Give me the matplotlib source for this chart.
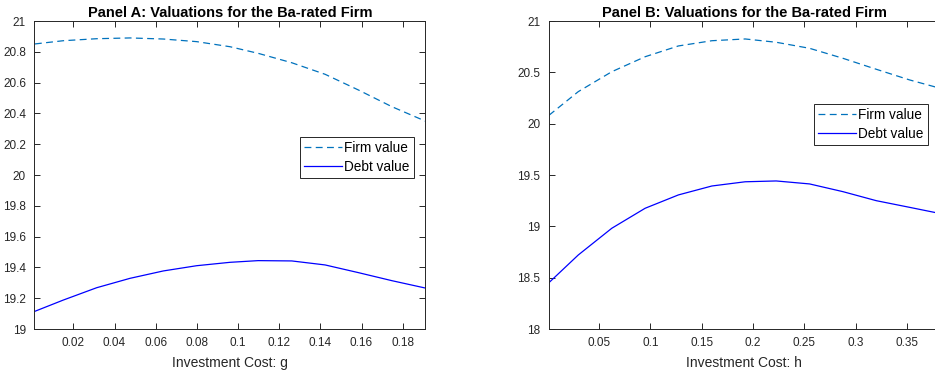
import matplotlib
matplotlib.use("Agg")
import matplotlib.pyplot as plt
from matplotlib.ticker import FuncFormatter

plt.rcParams['font.family'] = ['Liberation Sans', 'DejaVu Sans']

# Panel A data (investment cost g)
g = [0.0013, 0.0151, 0.0313, 0.0475, 0.0637, 0.0799, 0.0961,
     0.1098, 0.1261, 0.1423, 0.1585, 0.1747, 0.1910]
firm_a = [20.851, 20.872, 20.885, 20.890, 20.883, 20.866, 20.833,
          20.790, 20.729, 20.654, 20.552, 20.444, 20.350]
debt_a = [19.115, 19.188, 19.268, 19.329, 19.377, 19.411, 19.433,
          19.444, 19.442, 19.416, 19.366, 19.314, 19.266]

# Panel B data (investment cost h)
h = [0.0013, 0.0298, 0.0624, 0.0949, 0.1273, 0.1599, 0.1923,
     0.2225, 0.2550, 0.2874, 0.3199, 0.3524, 0.3820]
firm_b = [20.082, 20.312, 20.506, 20.652, 20.757, 20.808, 20.825,
          20.793, 20.734, 20.637, 20.530, 20.426, 20.345]
debt_b = [18.452, 18.721, 18.981, 19.176, 19.306, 19.393, 19.434,
          19.442, 19.413, 19.338, 19.250, 19.185, 19.125]

fmt = FuncFormatter(lambda v, p: ('%g' % round(v, 4)))

fig = plt.figure(figsize=(9.35, 3.77), dpi=100)
W, H = 935.0, 377.0

def make_ax(left, right, top, bottom):
    return fig.add_axes([left / W, 1 - bottom / H, (right - left) / W, (bottom - top) / H])

axA = make_ax(34.3, 425.3, 21, 329)
axB = make_ax(548.7, 940, 21, 329)

firm_col = '#0072BD'
debt_col = '#0000FF'

for ax, x, fv, dv, xlim, ylim, xt, yt, lab, title, legpos, rt in [
    (axA, g, firm_a, debt_a, (0.001, 0.191), (19, 21),
     [0.02, 0.04, 0.06, 0.08, 0.10, 0.12, 0.14, 0.16, 0.18],
     [19, 19.2, 19.4, 19.6, 19.8, 20, 20.2, 20.4, 20.6, 20.8, 21],
     'Investment Cost: g', 'Panel A: Valuations for the Ba-rated Firm',
     (300, 137), True),
    (axB, h, firm_b, debt_b, (0.001, 0.382), (18, 21),
     [0.05, 0.10, 0.15, 0.20, 0.25, 0.30, 0.35],
     [18, 18.5, 19, 19.5, 20, 20.5, 21],
     'Investment Cost: h', 'Panel B: Valuations for the Ba-rated Firm',
     (814, 104), False),
]:
    ax.plot(x, fv, color=firm_col, lw=0.9, ls=(0, (5.5, 3.5)), label='Firm value')
    ax.plot(x, dv, color=debt_col, lw=0.9, label='Debt value')
    ax.set_xlim(*xlim)
    ax.set_ylim(*ylim)
    ax.set_xticks(xt)
    ax.set_yticks(yt)
    ax.xaxis.set_major_formatter(fmt)
    ax.yaxis.set_major_formatter(fmt)
    ax.tick_params(direction='in', top=True, right=rt, length=4, width=0.7,
                   colors='#262626', labelsize=8.5, pad=6)
    for s in ax.spines.values():
        s.set_color('#262626')
        s.set_linewidth(0.7)
    ax.set_xlabel(lab, fontsize=10, color='#262626', labelpad=5)
    ax.set_title(title, fontsize=10.5, fontweight='bold', pad=3)
    lx, ly = legpos
    leg = ax.legend(loc='upper left', bbox_to_anchor=(lx / W, 1 - ly / H),
                    bbox_transform=fig.transFigure, fontsize=9.8, frameon=True,
                    fancybox=False, edgecolor='#262626', framealpha=1,
                    handlelength=2.8, handletextpad=0.15, borderpad=0.3,
                    labelspacing=0.38, borderaxespad=0)
    leg.get_frame().set_linewidth(0.7)

fig.savefig('out.png', dpi=100)
